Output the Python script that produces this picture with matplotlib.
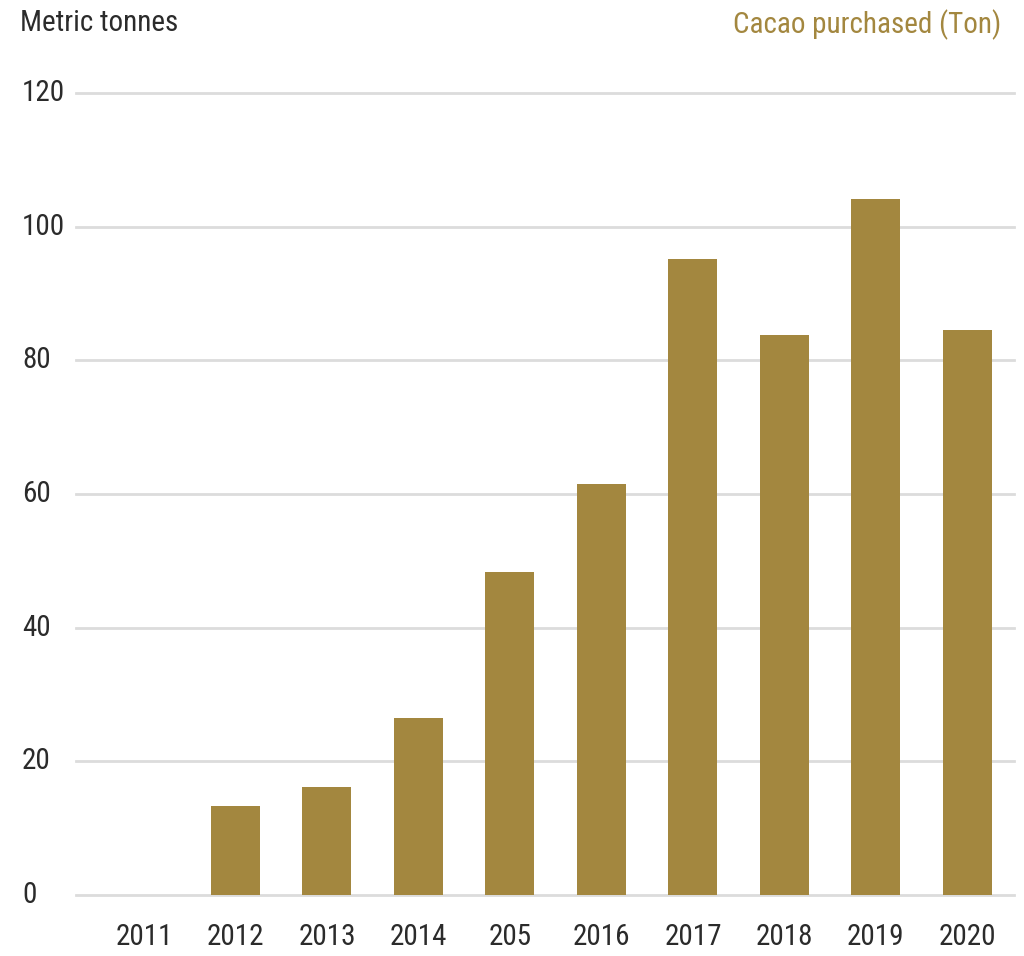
import matplotlib.pyplot as plt
import matplotlib.transforms as mtransforms
import numpy as np

# Cacao purchased per year, metric tonnes
years = ['2011', '2012', '2013', '2014', '205', '2016', '2017', '2018', '2019', '2020']
tonnes = [0, 13.3, 16.2, 26.5, 48.3, 61.5, 95.2, 83.8, 104.1, 84.5]
yticks = [0, 20, 40, 60, 80, 100, 120]

gold = '#a3873f'
dark = '#2b2b2b'
plt.rcParams['font.family'] = ['Roboto Condensed', 'DejaVu Sans']
plt.rcParams['font.stretch'] = 'condensed'

fig = plt.figure(figsize=(10.24, 9.56), dpi=100)
ax = fig.add_axes([76 / 1024, 61 / 956, 938 / 1024, 802 / 956])

x = np.arange(len(years))
ax.bar(x, tonnes, width=0.535, color=gold, zorder=3)

ax.set_xlim(-0.743, 9.51)
ax.set_ylim(0, 120)
ax.set_yticks(yticks)
ax.set_yticklabels([])
ax.tick_params(axis='y', length=0)
ax.grid(axis='y', color='#dcdcdc', linewidth=2, zorder=0)
for g in ax.get_ygridlines():
    g.set_clip_on(False)

ax.set_xticks(x)
ax.set_xticklabels(years, fontsize=21, color=dark)
ax.tick_params(axis='x', length=0, pad=20)

for s in ax.spines.values():
    s.set_visible(False)

# y labels sit left-aligned near the figure edge
trans = mtransforms.blended_transform_factory(fig.transFigure, ax.transData)
for v in yticks:
    ax.text(22 / 1024, v, str(v), transform=trans, ha='left', va='center',
            fontsize=21, color=dark)

fig.text(20 / 1024, 1 - 9 / 956, 'Metric tonnes', ha='left', va='top',
         fontsize=21, color=dark)
fig.text(1001 / 1024, 1 - 9 / 956, 'Cacao purchased (Ton)', ha='right', va='top',
         fontsize=21, color=gold)

fig.savefig('out.png', dpi=100)
